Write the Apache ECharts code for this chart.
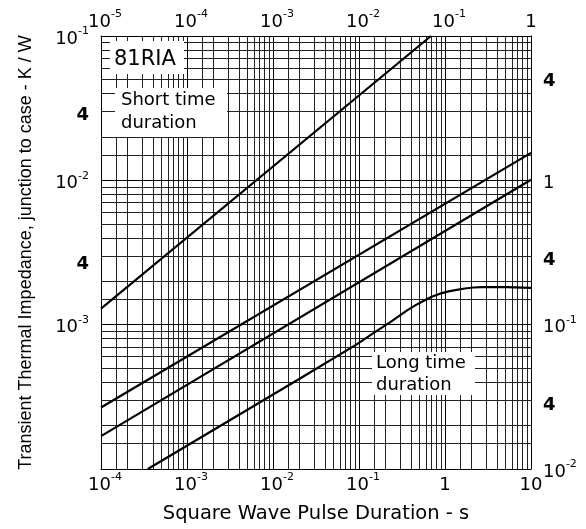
<!DOCTYPE html>
<html>
<head>
<meta charset="utf-8">
<script src="https://cdn.jsdelivr.net/npm/echarts@6/dist/echarts.min.js"></script>
<style>
html,body{margin:0;padding:0;background:#fff;}
#c{width:586px;height:529px;}
</style>
</head>
<body>
<div id="c"></div>
<script>
// ---------- tick labels ----------
const bottomTicks = [1e-4, 1e-3, 1e-2, 1e-1, 1, 10];
const bottomTickLabels = ['10^-4', '10^-3', '10^-2', '10^-1', '1', '10'];
const topTicks = [1e-5, 1e-4, 1e-3, 1e-2, 1e-1, 1];
const topTickLabels = ['10^-5', '10^-4', '10^-3', '10^-2', '10^-1', '1'];
const leftTicks = [0.1, 0.028, 0.01, 0.0026, 0.001];
const leftTickLabels = ['10^-1', '4', '10^-2', '4', '10^-3'];
const rightTicks = [4.85, 1, 0.279, 0.1, 0.0275, 0.01];
const rightTickLabels = ['4', '1', '4', '10^-1', '4', '10^-2'];

// ---------- series values ----------
// short time duration (top x axis, left y axis)
const shortX = [1e-5, 0.0687];
const shortY = [0.00129, 0.1];
// band lines (bottom x axis, right y axis)
const bandUpperX = [1e-4, 10];
const bandUpperY = [0.0267, 1.55];
const bandLowerX = [1e-4, 10];
const bandLowerY = [0.0169, 1.01];
// long time duration curve (bottom x axis, right y axis)
const longX = [3.5e-4, 0.0206, 0.094, 0.15, 0.229, 0.359, 0.45, 0.56, 0.7, 0.875, 1.1, 1.37, 1.7, 2.13, 2.7, 3.33, 5.21, 10];
const longY = [0.01, 0.0424, 0.073, 0.088, 0.1038, 0.125, 0.136, 0.146, 0.156, 0.164, 0.170, 0.174, 0.178, 0.181, 0.1818, 0.182, 0.182, 0.180];

// grid multipliers for log grid
const gridMult = [1, 1.5, 2, 3, 4, 5, 6, 7, 8, 9];

const FONT = 'DejaVu Sans';
const FONT_V = 'Liberation Sans';

function findLabel(v, ticks, labels) {
  for (let i = 0; i < ticks.length; i++) {
    if (Math.abs(Math.log10(v) - Math.log10(ticks[i])) < 1e-4) return labels[i];
  }
  return null;
}
function richText(s, spacer) {
  if (s === null) return '';
  const m = s.match(/^10\^(-?\d+)$/);
  if (m) return (spacer ? '{p| }' : '') + '{b|10}{s|' + m[1] + '}';
  if (s === '4') return '{k|4}';
  return '{b|' + s + '}';
}
const rich = {
  p: {width: 8, fontSize: 11, fontFamily: FONT},
  b: {fontSize: 18, lineHeight: 20, padding: [6, 0, 0, 0], fontFamily: FONT, color: '#000'},
  s: {fontSize: 11, lineHeight: 11, verticalAlign: 'top', fontFamily: FONT, color: '#000'},
  k: {fontSize: 18, fontWeight: 'bold', lineHeight: 20, fontFamily: FONT, color: '#000'}
};

function pairs(xs, ys) { return xs.map((x, i) => [x, ys[i]]); }

const vLines = [];
for (let e = -4; e <= 0; e++) for (const m of gridMult) vLines.push(m * Math.pow(10, e));
vLines.push(10);
const hLines = [];
for (let e = -4; e <= -2; e++) for (const m of gridMult) hLines.push(m * Math.pow(10, e));
hLines.push(0.1);

function lineItem(key, v, m) {
  const o = {};
  o[key] = v;
  o.lineStyle = {color: m === 1 ? '#000' : '#222', width: 1, type: 'solid'};
  return o;
}
const markData = [];
vLines.forEach((v, i) => markData.push(lineItem('xAxis', v, gridMult[i % gridMult.length])));
hLines.forEach((v, i) => markData.push(lineItem('yAxis', v, gridMult[i % gridMult.length])));

const axisLineStyle = {show: true, lineStyle: {color: '#000', width: 1}};

const chart = echarts.init(document.getElementById('c'));
chart.setOption({
  animation: false,
  backgroundColor: '#fff',
  grid: {left: 101, right: 55, top: 36, bottom: 57, show: false},
  xAxis: [
    {
      type: 'log', logBase: 10, position: 'bottom', min: 1e-4, max: 10,
      axisLine: axisLineStyle, axisTick: {show: false}, splitLine: {show: false},
      axisLabel: {
        margin: 3, rich: rich,
        formatter: v => richText(findLabel(v, bottomTicks, bottomTickLabels), true)
      },
      name: 'Square Wave Pulse Duration - s', nameLocation: 'middle', nameGap: 35,
      nameTextStyle: {fontFamily: FONT, fontSize: 19.5, color: '#000'}
    },
    {
      type: 'log', logBase: 10, position: 'top', min: 1e-5, max: 1,
      axisLine: axisLineStyle, axisTick: {show: false}, splitLine: {show: false},
      axisLabel: {
        margin: 7, rich: rich,
        formatter: v => richText(findLabel(v, topTicks, topTickLabels), true)
      }
    }
  ],
  yAxis: [
    {
      type: 'log', logBase: 10, position: 'left', min: 1e-4, max: 0.1,
      axisLine: axisLineStyle, axisTick: {show: false}, splitLine: {show: false},
      axisLabel: {
        margin: 12, rich: rich, customValues: leftTicks,
        formatter: v => richText(findLabel(v, leftTicks, leftTickLabels), false)
      },
      name: 'Transient Thermal Impedance, junction to case - K / W',
      nameLocation: 'middle', nameGap: 66,
      nameTextStyle: {fontFamily: FONT_V, fontSize: 18, color: '#000'}
    },
    {
      type: 'log', logBase: 10, position: 'right', min: 0.01, max: 10,
      axisLine: axisLineStyle, axisTick: {show: false}, splitLine: {show: false},
      axisLabel: {
        margin: 12, rich: rich, customValues: rightTicks,
        formatter: v => richText(findLabel(v, rightTicks, rightTickLabels), false)
      }
    }
  ],
  series: [
    {
      type: 'line', name: 'grid', data: [], xAxisIndex: 0, yAxisIndex: 0, silent: true, z: 1,
      markLine: {
        silent: true, symbol: ['none', 'none'], label: {show: false}, animation: false,
        precision: 12,
        emphasis: {disabled: true},
        data: markData
      }
    },
    {
      type: 'line', name: 'Short time', xAxisIndex: 1, yAxisIndex: 0, z: 5,
      data: pairs(shortX, shortY), symbol: 'none',
      lineStyle: {color: '#000', width: 2.2}
    },
    {
      type: 'line', name: 'Band upper', xAxisIndex: 0, yAxisIndex: 1, z: 5,
      data: pairs(bandUpperX, bandUpperY), symbol: 'none',
      lineStyle: {color: '#000', width: 2.2}
    },
    {
      type: 'line', name: 'Band lower', xAxisIndex: 0, yAxisIndex: 1, z: 5,
      data: pairs(bandLowerX, bandLowerY), symbol: 'none',
      lineStyle: {color: '#000', width: 2.2}
    },
    {
      type: 'line', name: 'Long time', xAxisIndex: 0, yAxisIndex: 1, z: 5,
      data: pairs(longX, longY), symbol: 'none',
      lineStyle: {color: '#000', width: 2.2, join: 'round'}
    }
  ],
  graphic: [
    {type: 'rect', z: 100, shape: {x: 110, y: 41, width: 74, height: 33}, style: {fill: '#fff'}},
    {type: 'text', z: 101, x: 114, y: 49, style: {text: '81RIA', font: '21px "DejaVu Sans"', fill: '#000'}},
    {type: 'rect', z: 100, shape: {x: 115, y: 88, width: 112, height: 49}, style: {fill: '#fff'}},
    {type: 'text', z: 101, x: 121, y: 89, style: {text: 'Short time\nduration', font: '18px "DejaVu Sans"', lineHeight: 23, fill: '#000'}},
    {type: 'rect', z: 100, shape: {x: 372, y: 352, width: 103, height: 43}, style: {fill: '#fff'}},
    {type: 'text', z: 101, x: 376, y: 352, style: {text: 'Long time\nduration', font: '18px "DejaVu Sans"', lineHeight: 22, fill: '#000'}}
  ]
});
</script>
</body>
</html>
